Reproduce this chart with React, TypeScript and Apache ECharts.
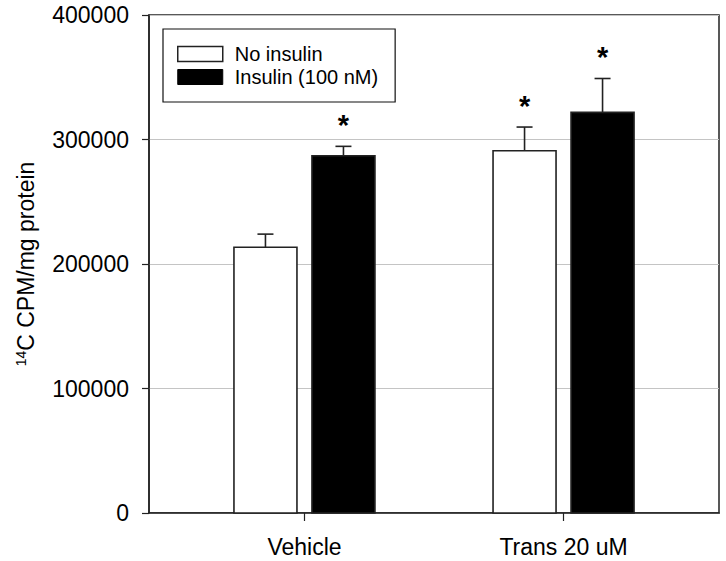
import React, { useEffect, useRef } from "react";
import * as echarts from "echarts";

const categories = ["Vehicle", "Trans 20 uM"];
const categoryPositions = [1, 2];
const seriesNames = ["No insulin", "Insulin (100 nM)"];
const noInsulinMeans = [213500, 291000];
const noInsulinErrTops = [224000, 310000];
const noInsulinSig = [0, 1];
const insulinMeans = [287000, 321800];
const insulinErrTops = [294500, 349000];
const insulinSig = [1, 1];
const yTicks = [0, 100000, 200000, 300000, 400000];

const FONT = "'Liberation Sans', Arial, sans-serif";

function makeRenderItem(offset: number, fill: string) {
  return (params: any, api: any) => {
    const x = api.value(0);
    const v = api.value(1);
    const e = api.value(2);
    const sig = api.value(3);
    const base = api.coord([x, 0]);
    const top = api.coord([x, v]);
    const cap = api.coord([x, e]);
    const cx = base[0] + offset;
    const bw = 63;
    const children: any[] = [
      {
        type: "line",
        shape: { x1: cx, y1: top[1], x2: cx, y2: cap[1] },
        style: { stroke: "#222", lineWidth: 1.6 },
      },
      {
        type: "line",
        shape: { x1: cx - 8, y1: cap[1], x2: cx + 8, y2: cap[1] },
        style: { stroke: "#222", lineWidth: 1.6 },
      },
      {
        type: "rect",
        shape: { x: cx - bw / 2, y: top[1], width: bw, height: base[1] - top[1] },
        style: { fill, stroke: "#222", lineWidth: 1.6 },
      },
    ];
    if (sig) {
      children.push({
        type: "text",
        style: {
          text: "*",
          x: cx,
          y: cap[1] - 21,
          align: "center",
          verticalAlign: "middle",
          fontSize: 29,
          fontWeight: "bold",
          fontFamily: FONT,
          fill: "#000",
        },
      });
    }
    return { type: "group", children };
  };
}

export default function App() {
  const ref = useRef<HTMLDivElement>(null);
  useEffect(() => {
    if (!ref.current) return;
    const chart = echarts.init(ref.current, undefined, { renderer: "svg" });
    const noData = categoryPositions.map((p, i) => [p, noInsulinMeans[i], noInsulinErrTops[i], noInsulinSig[i]]);
    const inData = categoryPositions.map((p, i) => [p, insulinMeans[i], insulinErrTops[i], insulinSig[i]]);
    chart.setOption({
      animation: false,
      backgroundColor: "#fff",
      grid: {
        left: 149,
        top: 15,
        right: 7,
        bottom: 48,
        show: true,
        borderColor: "#222",
        borderWidth: 1.5,
        containLabel: false,
      },
      legend: {
        orient: "vertical",
        left: 163,
        top: 29,
        padding: [15, 17, 15, 14],
        itemWidth: 45,
        itemHeight: 15,
        itemGap: 3,
        borderColor: "#111",
        borderWidth: 1.2,
        selectedMode: false,
        textStyle: { fontSize: 20, fontFamily: FONT, color: "#000", padding: [0, 0, 0, 7] },
        data: [
          { name: seriesNames[0], icon: "rect", itemStyle: { color: "#fff", borderColor: "#222", borderWidth: 1.5 } },
          { name: seriesNames[1], icon: "rect", itemStyle: { color: "#000", borderColor: "#000", borderWidth: 1 } },
        ],
      },
      xAxis: {
        type: "value",
        min: 0.4,
        max: 2.6,
        splitLine: { show: false },
        axisLine: { show: true, lineStyle: { color: "#222", width: 1.5 } },
        axisTick: { show: true, customValues: categoryPositions, length: 8, lineStyle: { color: "#222", width: 1.2 } },
        axisLabel: {
          customValues: categoryPositions,
          formatter: (v: number) => categories[Math.round(v) - 1] ?? "",
          fontSize: 23,
          fontFamily: FONT,
          color: "#000",
          margin: 22,
        },
      },
      yAxis: {
        type: "value",
        min: yTicks[0],
        max: yTicks[yTicks.length - 1],
        interval: 100000,
        name: "{sup|14}C CPM/mg protein",
        nameLocation: "middle",
        nameGap: 112,
        nameTextStyle: {
          fontSize: 23,
          fontFamily: FONT,
          color: "#000",
          rich: {
            sup: { fontSize: 14, fontFamily: FONT, color: "#000", verticalAlign: "top", lineHeight: 14 },
          },
        },
        axisLine: { show: true, lineStyle: { color: "#222", width: 1.5 } },
        axisTick: { show: true, length: 7, lineStyle: { color: "#222", width: 1.2 } },
        axisLabel: {
          fontSize: 23,
          fontFamily: FONT,
          color: "#000",
          margin: 20,
          formatter: (v: number) => String(v),
        },
        splitLine: { show: true, lineStyle: { color: "#c4c4c4", width: 1 } },
      },
      series: [
        {
          type: "custom",
          name: seriesNames[0],
          itemStyle: { color: "#fff" },
          renderItem: makeRenderItem(-39, "#fff"),
          encode: { x: 0, y: [1, 2] },
          data: noData,
          z: 3,
        },
        {
          type: "custom",
          name: seriesNames[1],
          itemStyle: { color: "#000" },
          renderItem: makeRenderItem(39, "#000"),
          encode: { x: 0, y: [1, 2] },
          data: inData,
          z: 3,
        },
      ],
    });
    return () => chart.dispose();
  }, []);
  return <div ref={ref} style={{ position: "fixed", left: 0, top: 0, width: 726, height: 561 }} />;
}
